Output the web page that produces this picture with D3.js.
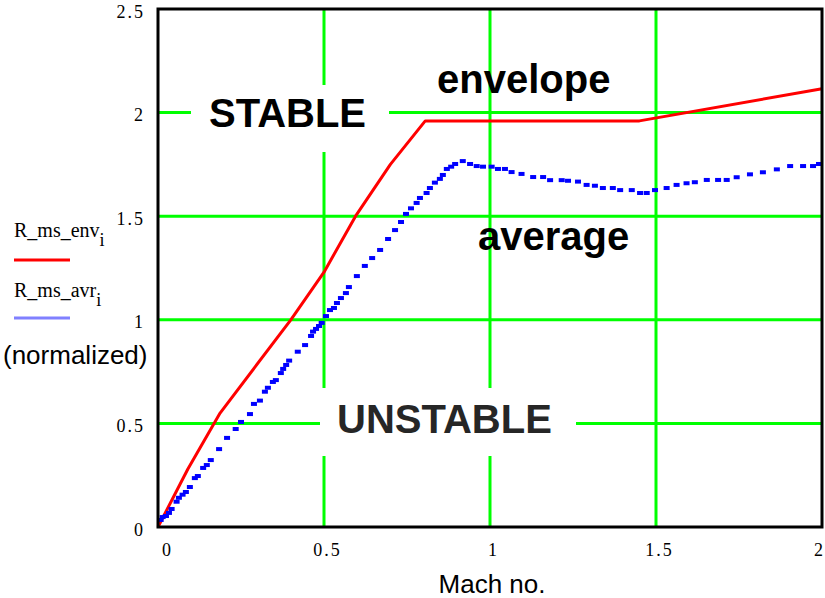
<!DOCTYPE html>
<html>
<head>
<meta charset="utf-8">
<script src="https://cdn.jsdelivr.net/npm/d3@7"></script>
<style>
  body { margin: 0; background: #fff; }
  svg { display: block; }
  .tick text { font-family: "Liberation Serif", "Times New Roman", serif; font-size: 18px; letter-spacing: 2px; fill: #000; }
</style>
</head>
<body>
<svg width="825" height="598"></svg>
<script>
// envelope curve (red)
const machEnv = [0, 0.09, 0.187, 0.4, 0.5, 0.595, 0.7, 0.805, 1.45, 2];
const rEnv = [0, 0.28, 0.55, 1.0, 1.23, 1.5, 1.75, 1.96, 1.96, 2.115];

// average curve (blue, plotted as points)
const machAvr = [0.008, 0.014, 0.024, 0.033, 0.041, 0.056, 0.063, 0.074, 0.084, 0.096,
  0.111, 0.120, 0.136, 0.147, 0.159, 0.184, 0.208, 0.234, 0.250, 0.277,
  0.289, 0.307, 0.322, 0.331, 0.346, 0.355, 0.370, 0.377, 0.386, 0.395,
  0.421, 0.443, 0.461, 0.467, 0.476, 0.485, 0.493, 0.506, 0.518, 0.530,
  0.539, 0.551, 0.566, 0.575, 0.599, 0.623, 0.645, 0.669, 0.693, 0.714,
  0.732, 0.747, 0.762, 0.779, 0.789, 0.809, 0.819, 0.834, 0.849, 0.858,
  0.870, 0.883, 0.895, 0.918, 0.940, 0.960, 0.979, 1.005, 1.024, 1.045,
  1.065, 1.095, 1.130, 1.160, 1.181, 1.216, 1.235, 1.265, 1.291, 1.316,
  1.340, 1.370, 1.392, 1.427, 1.452, 1.472, 1.497, 1.532, 1.562, 1.592,
  1.617, 1.653, 1.687, 1.713, 1.743, 1.783, 1.822, 1.864, 1.904, 1.943,
  1.973, 1.991];
const rAvr = [0.034, 0.048, 0.053, 0.068, 0.087, 0.122, 0.141, 0.156, 0.169, 0.193,
  0.236, 0.246, 0.285, 0.299, 0.323, 0.376, 0.430, 0.473, 0.507, 0.545,
  0.594, 0.610, 0.653, 0.672, 0.700, 0.709, 0.743, 0.763, 0.782, 0.803,
  0.846, 0.878, 0.922, 0.943, 0.956, 0.970, 0.985, 1.018, 1.047, 1.057,
  1.081, 1.105, 1.129, 1.158, 1.211, 1.260, 1.298, 1.337, 1.390, 1.433,
  1.472, 1.511, 1.538, 1.564, 1.588, 1.612, 1.636, 1.662, 1.680, 1.699,
  1.728, 1.739, 1.752, 1.766, 1.752, 1.742, 1.739, 1.739, 1.728, 1.728,
  1.713, 1.704, 1.689, 1.689, 1.674, 1.674, 1.671, 1.667, 1.651, 1.647,
  1.636, 1.636, 1.626, 1.626, 1.612, 1.612, 1.626, 1.636, 1.651, 1.659,
  1.664, 1.675, 1.675, 1.675, 1.688, 1.702, 1.712, 1.726, 1.742, 1.742,
  1.742, 1.752];

const xTicks = [0, 0.5, 1, 1.5, 2];
const yTicks = [0, 0.5, 1, 1.5, 2, 2.5];
const xGrid = [0.5, 1, 1.5];
const yGrid = [0.5, 1, 1.5, 2];

const svg = d3.select('svg');
const margin = { top: 9, right: 3, bottom: 71, left: 158 };
const width = 825, height = 598;

const x = d3.scaleLinear().domain([0, 2]).range([margin.left, width - margin.right]);
const y = d3.scaleLinear().domain([0, 2.5]).range([height - margin.bottom, margin.top]);

const green = '#00ff00';

// grid
svg.append('g')
    .selectAll('line')
    .data(xGrid)
    .enter().append('line')
    .attr('x1', d => x(d)).attr('x2', d => x(d))
    .attr('y1', y(2.5)).attr('y2', y(0))
    .attr('stroke', green).attr('stroke-width', 3);

svg.append('g')
    .selectAll('line')
    .data(yGrid)
    .enter().append('line')
    .attr('x1', x(0)).attr('x2', x(2))
    .attr('y1', d => y(d)).attr('y2', d => y(d))
    .attr('stroke', green).attr('stroke-width', 3);

// region labels (white boxes cut the grid)
const bold = '"Liberation Sans", Arial, sans-serif';
svg.append('rect').attr('x', 191).attr('y', 85).attr('width', 198).attr('height', 67).attr('fill', '#fff');
svg.append('rect').attr('x', 320).attr('y', 388).attr('width', 256).attr('height', 68).attr('fill', '#fff');

const label = (txt, lx, ly, col) => svg.append('text')
    .attr('x', lx).attr('y', ly)
    .attr('font-family', bold).attr('font-weight', 'bold')
    .attr('font-size', 40).attr('fill', col)
    .text(txt);

label('STABLE', 209, 127, '#000');
label('UNSTABLE', 337, 433, '#262626');
label('envelope', 437, 93, '#000');
label('average', 478, 250, '#000');

// curves
const envLine = d3.line()
    .x((d, i) => x(machEnv[i]))
    .y(d => y(d));

svg.append('path')
    .datum(rEnv)
    .attr('d', envLine)
    .attr('fill', 'none')
    .attr('stroke', '#ff0000')
    .attr('stroke-width', 3)
    .attr('stroke-linejoin', 'round');

svg.append('g')
    .attr('fill', '#0000ff')
    .selectAll('rect')
    .data(rAvr)
    .enter().append('rect')
    .attr('x', (d, i) => x(machAvr[i]) - 3)
    .attr('y', d => y(d) - 2)
    .attr('width', 6)
    .attr('height', 4);

// frame
svg.append('rect')
    .attr('x', x(0)).attr('y', y(2.5))
    .attr('width', x(2) - x(0)).attr('height', y(0) - y(2.5))
    .attr('fill', 'none').attr('stroke', '#000').attr('stroke-width', 3);

// axes
const fmt = d => String(d);

const gx = svg.append('g')
    .attr('transform', `translate(0, ${y(0)})`)
    .call(d3.axisBottom(x).tickValues(xTicks).tickFormat(fmt).tickSize(0).tickPadding(16));
gx.select('.domain').remove();
gx.selectAll('.tick text')
    .attr('dx', (d, i) => i === 0 ? 9 : (i === xTicks.length - 1 ? -3 : 3));

const gy = svg.append('g')
    .attr('transform', `translate(${x(0)}, 0)`)
    .call(d3.axisLeft(y).tickValues(yTicks).tickFormat(fmt).tickSize(0).tickPadding(13));
gy.select('.domain').remove();
gy.selectAll('.tick text').attr('dy', '0.45em');

// axis title
svg.append('text')
    .attr('x', 492).attr('y', 593)
    .attr('text-anchor', 'middle')
    .attr('font-family', bold)
    .attr('font-size', 26)
    .text('Mach no.');

// legend on the left
const serif = '"Liberation Serif", "Times New Roman", serif';
const leg = [
    { name: 'R_ms_env', color: '#ff0000', ty: 237, ly: 260 },
    { name: 'R_ms_avr', color: '#8080ff', ty: 297, ly: 318 }
];
leg.forEach(l => {
    const t = svg.append('text')
        .attr('x', 14).attr('y', l.ty)
        .attr('font-family', serif)
        .attr('font-size', 20)
        .text(l.name);
    t.append('tspan')
        .attr('dy', 9)
        .attr('font-size', 18)
        .text('i');
    svg.append('line')
        .attr('x1', 14).attr('x2', 70)
        .attr('y1', l.ly).attr('y2', l.ly)
        .attr('stroke', l.color).attr('stroke-width', 3);
});

svg.append('text')
    .attr('x', 3).attr('y', 364)
    .attr('font-family', bold)
    .attr('font-size', 26)
    .text('(normalized)');
</script>
</body>
</html>
